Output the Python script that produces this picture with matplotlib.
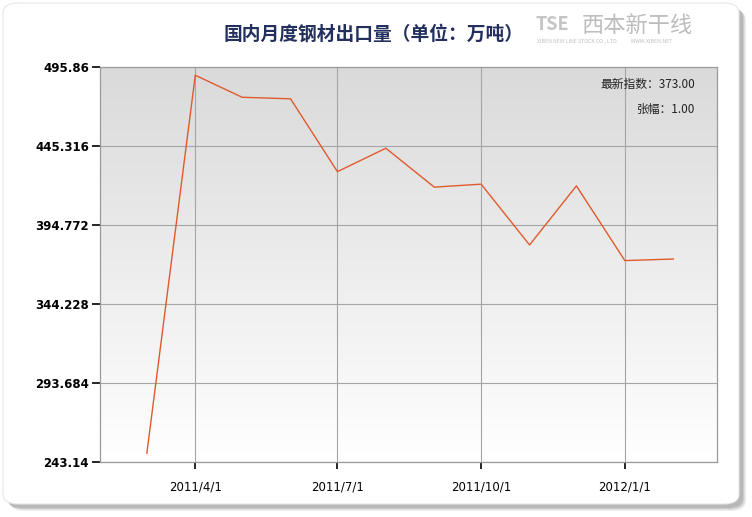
import matplotlib
matplotlib.use("Agg", force=True)
import matplotlib.pyplot as plt
import numpy as np
from datetime import datetime
from matplotlib.patches import FancyBboxPatch

plt.rcParams["font.family"] = ["Noto Sans CJK SC", "DejaVu Sans"]

months = ["2011-03-01", "2011-04-01", "2011-05-01", "2011-06-01", "2011-07-01",
          "2011-08-01", "2011-09-01", "2011-10-01", "2011-11-01", "2011-12-01",
          "2012-01-01", "2012-02-01"]
exports = [248.8, 490.6, 476.5, 475.5, 428.9, 443.9, 419.0, 420.9, 382.0, 419.8, 372.0, 373.0]
y_ticks = [243.14, 293.684, 344.228, 394.772, 445.316, 495.86]
x_ticks = ["2011-04-01", "2011-07-01", "2011-10-01", "2012-01-01"]
x_tick_labels = ["2011/4/1", "2011/7/1", "2011/10/1", "2012/1/1"]
title = "国内月度钢材出口量（单位：万吨）"
latest_text = "最新指数：373.00"
change_text = "张幅：1.00"

W, H = 752, 517
fig = plt.figure(figsize=(W / 100, H / 100), dpi=100)
fig.patch.set_facecolor("white")


def fx(px):
    return px / W


def fy(py):
    return 1 - py / H


# soft shadow, drawn as a few stacked translucent rounded boxes
for off, alpha in [(7, 0.12), (6, 0.15), (5, 0.2), (4, 0.25)]:
    sh = FancyBboxPatch((fx(3 + off), fy(504 + off)), fx(736), fy(3) - fy(504),
                        boxstyle="round,pad=0,rounding_size=0.02",
                        transform=fig.transFigure, facecolor="#808080",
                        edgecolor="none", alpha=alpha, zorder=0)
    fig.patches.append(sh)
card = FancyBboxPatch((fx(3), fy(504)), fx(736), fy(3) - fy(504),
                      boxstyle="round,pad=0,rounding_size=0.02",
                      transform=fig.transFigure, facecolor="white",
                      edgecolor="#e6e6e6", linewidth=0.8, zorder=1)
fig.patches.append(card)

ax = fig.add_axes([fx(100), fy(462), fx(717) - fx(100), fy(67) - fy(462)])
ax.set_zorder(2)
ax.patch.set_alpha(0)

grad = np.linspace(0.855, 1.0, 256).reshape(-1, 1)
ax.imshow(np.dstack([grad, grad, grad]), extent=[0, 1, 0, 1], transform=ax.transAxes,
          aspect="auto", origin="upper", zorder=0, interpolation="bilinear")

dates = [datetime.strptime(m, "%Y-%m-%d") for m in months]
ax.plot(dates, exports, color="#e05a2b", linewidth=1.0, zorder=3)

ax.set_xlim(datetime(2011, 1, 30), datetime(2012, 2, 29))
ax.set_ylim(y_ticks[0], y_ticks[-1])
ax.set_yticks(y_ticks)
ax.set_yticklabels([f"{v:g}" for v in y_ticks], fontsize=8.5, fontweight="bold",
                   family=["DejaVu Sans"])
ax.set_xticks([datetime.strptime(d, "%Y-%m-%d") for d in x_ticks])
ax.set_xticklabels(x_tick_labels, fontsize=8.5, family=["Liberation Sans Narrow", "DejaVu Sans"])
ax.grid(True, color="#a5a5a5", linewidth=0.8, zorder=1)
ax.set_axisbelow(True)
ax.tick_params(axis="y", length=6, width=1.2, color="black", pad=2)
ax.tick_params(axis="x", length=5, width=1.2, color="black", pad=8)
for s in ax.spines.values():
    s.set_color("#9a9a9a")
    s.set_linewidth(0.9)

ax.text(0.965, 0.955, latest_text, transform=ax.transAxes, ha="right", va="center",
        fontsize=8.5, color="#222222", zorder=4)
ax.text(0.965, 0.892, change_text, transform=ax.transAxes, ha="right", va="center",
        fontsize=8.5, color="#222222", zorder=4)

fig.text(fx(374), fy(34), title, ha="center", va="center", fontsize=13.5,
         fontweight="bold", color="#23305e", zorder=3)

# logo approximation
fig.text(fx(536), fy(25), "TSE", ha="left", va="center", fontsize=13,
         color="#c4c4c4", fontweight="bold", zorder=3)
fig.text(fx(582), fy(26), "西本新干线", ha="left", va="center", fontsize=16,
         color="#bdbdbd", style="italic", zorder=3)
fig.text(fx(537), fy(41), "XIBEN NEW LINE STOCK CO., LTD.           WWW.XIBEN.NET", ha="left",
         va="center", fontsize=3.8, color="#c0c0c0", zorder=3)

fig.savefig("out.png", dpi=100)
